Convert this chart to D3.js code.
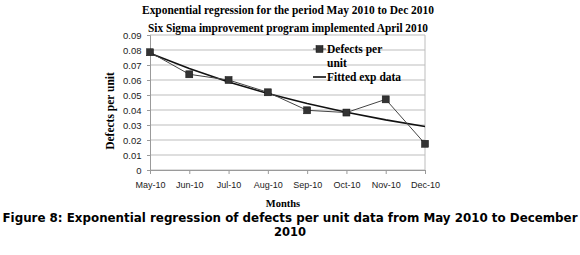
<!DOCTYPE html>
<html>
<head>
<meta charset="utf-8">
<script src="https://cdn.jsdelivr.net/npm/d3@7"></script>
<style>
  body { margin: 0; background: #fff; }
  svg { display: block; }
</style>
</head>
<body>
<svg width="580" height="255"></svg>
<script>
// data
const months = ["May-10", "Jun-10", "Jul-10", "Aug-10", "Sep-10", "Oct-10", "Nov-10", "Dec-10"];
const defects = [0.0785, 0.0638, 0.0600, 0.0518, 0.0398, 0.0383, 0.0471, 0.0175];
const fitted = [0.0778, 0.0676, 0.0587, 0.0510, 0.0443, 0.0385, 0.0334, 0.0290];
const yTicks = [0, 0.01, 0.02, 0.03, 0.04, 0.05, 0.06, 0.07, 0.08, 0.09];

const svg = d3.select("svg");
const plotL = 150, plotR = 425, plotT = 35, plotB = 170;

const x = d3.scalePoint().domain(months).range([plotL, plotR]);
const y = d3.scaleLinear().domain([0, 0.09]).range([plotB, plotT]);

// gridlines
svg.append("g")
  .selectAll("line")
  .data(yTicks)
  .enter().append("line")
  .attr("x1", plotL).attr("x2", plotR)
  .attr("y1", d => y(d)).attr("y2", d => y(d))
  .attr("stroke", "#bdbdbd").attr("stroke-width", 1);

// right border of plot
svg.append("line")
  .attr("x1", plotR).attr("x2", plotR).attr("y1", plotT).attr("y2", plotB)
  .attr("stroke", "#bdbdbd");

// y axis
const yAxis = svg.append("g")
  .attr("transform", `translate(${plotL},0)`)
  .call(d3.axisLeft(y).tickValues(yTicks).tickSize(3).tickFormat(d => d === 0 ? "0" : d3.format(".2f")(d)));
yAxis.select(".domain").attr("stroke", "#9a9a9a");
yAxis.selectAll(".tick line").attr("stroke", "#9a9a9a");
yAxis.selectAll("text")
  .attr("x", -8.5)
  .attr("font-family", "Liberation Sans, Arial, sans-serif")
  .attr("font-size", 9.5).attr("fill", "#222");

// x axis
const xAxis = svg.append("g")
  .attr("transform", `translate(0,${plotB})`)
  .call(d3.axisBottom(x).tickSize(4).tickPadding(8));
xAxis.select(".domain").attr("stroke", "#9a9a9a");
xAxis.selectAll(".tick line").attr("stroke", "#9a9a9a");
xAxis.selectAll("text")
  .attr("font-family", "Liberation Sans, Arial, sans-serif")
  .attr("font-size", 9).attr("fill", "#222");

// series
const line = d3.line().x((d, i) => x(months[i])).y(d => y(d));

svg.append("path")
  .datum(fitted)
  .attr("d", line)
  .attr("fill", "none").attr("stroke", "#111").attr("stroke-width", 1.6);

svg.append("path")
  .datum(defects)
  .attr("d", line)
  .attr("fill", "none").attr("stroke", "#444").attr("stroke-width", 1);

svg.append("g")
  .selectAll("rect")
  .data(defects)
  .enter().append("rect")
  .attr("x", (d, i) => x(months[i]) - 3.5)
  .attr("y", d => y(d) - 3.5)
  .attr("width", 7).attr("height", 7)
  .attr("fill", "#333").attr("stroke", "#111").attr("stroke-width", 0.5);

// titles
const serif = "Liberation Serif, Times New Roman, serif";
svg.append("text")
  .attr("x", 288).attr("y", 14)
  .attr("text-anchor", "middle")
  .attr("font-family", serif).attr("font-weight", "bold").attr("font-size", 12)
  .attr("textLength", 292).attr("lengthAdjust", "spacingAndGlyphs")
  .text("Exponential regression for the period May 2010 to Dec 2010");
svg.append("text")
  .attr("x", 288).attr("y", 32)
  .attr("text-anchor", "middle")
  .attr("font-family", serif).attr("font-weight", "bold").attr("font-size", 12)
  .attr("textLength", 280).attr("lengthAdjust", "spacingAndGlyphs")
  .text("Six Sigma improvement program implemented April 2010");

// axis titles
svg.append("text")
  .attr("transform", "translate(114,111) rotate(-90)")
  .attr("text-anchor", "middle")
  .attr("font-family", serif).attr("font-weight", "bold").attr("font-size", 11.5)
  .text("Defects per unit");
svg.append("text")
  .attr("x", 283).attr("y", 207)
  .attr("text-anchor", "middle")
  .attr("font-family", serif).attr("font-weight", "bold").attr("font-size", 10.5)
  .text("Months");

// legend
const lg = svg.append("g").attr("font-family", serif).attr("font-weight", "bold").attr("font-size", 11.5);
lg.append("line").attr("x1", 313).attr("x2", 326).attr("y1", 49).attr("y2", 49)
  .attr("stroke", "#444").attr("stroke-width", 1);
lg.append("rect").attr("x", 316).attr("y", 45.5).attr("width", 7).attr("height", 7)
  .attr("fill", "#333").attr("stroke", "#111").attr("stroke-width", 0.5);
lg.append("text").attr("x", 327).attr("y", 53).text("Defects per");
lg.append("text").attr("x", 327).attr("y", 67).text("unit");
lg.append("line").attr("x1", 313).attr("x2", 326).attr("y1", 77).attr("y2", 77)
  .attr("stroke", "#111").attr("stroke-width", 1.6);
lg.append("text").attr("x", 327).attr("y", 81).text("Fitted exp data");

// figure caption
const cap = "DejaVu Sans, Verdana, sans-serif";
svg.append("text")
  .attr("x", 290).attr("y", 222)
  .attr("text-anchor", "middle")
  .attr("font-family", cap).attr("font-weight", "bold").attr("font-size", 11.5)
  .attr("textLength", 575).attr("lengthAdjust", "spacingAndGlyphs")
  .text("Figure 8: Exponential regression of defects per unit data from May 2010 to December");
svg.append("text")
  .attr("x", 290).attr("y", 236)
  .attr("text-anchor", "middle")
  .attr("font-family", cap).attr("font-weight", "bold").attr("font-size", 11.5)
  .text("2010");
</script>
</body>
</html>
